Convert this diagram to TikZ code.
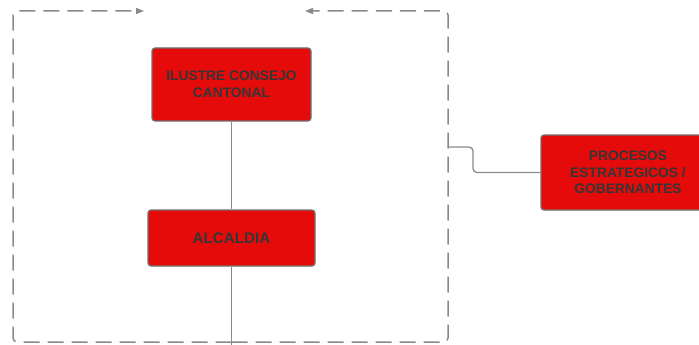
\documentclass[tikz,border=0pt]{standalone}
\usepackage{fontspec}
\setmainfont{Liberation Sans}
\usepackage{tikz}
\usetikzlibrary{arrows.meta,positioning}
\definecolor{boxred}{HTML}{E60B0B}
\definecolor{edgegray}{HTML}{707070}
\definecolor{linegray}{HTML}{8A8A8A}
\definecolor{txtgray}{HTML}{353535}
\tikzset{
  unit/.style={draw=edgegray,line width=1.2pt,fill=boxred,rounded corners=3pt,
    align=center,text=txtgray,font=\bfseries\fontsize{13.8}{17}\selectfont,inner sep=0pt},
  link/.style={draw=linegray,line width=1.3pt},
  frame/.style={draw=linegray,line width=1.5pt,dash pattern=on 16pt off 8pt,
    rounded corners=4pt,-{Triangle[length=8pt,width=6pt]}}
}
\begin{document}
\begin{tikzpicture}[x=1pt,y=-1pt]
  \useasboundingbox (0,0) rectangle (699,345);
  \clip (0,0) rectangle (699,345);
  % frame corners
  \coordinate (bot) at (231.5,342);
  \coordinate (low) at (231.5,345);
  \coordinate (bl) at (13,342);
  \coordinate (tl) at (13,11);
  \coordinate (tr) at (448,11);
  \coordinate (br) at (448,342);
  \coordinate (endl) at (144,11);
  \coordinate (endr) at (305,11);
  \coordinate (tap) at (448,147);
  % frame
  \draw[frame] (bot) -- (bl) -- (tl) -- (endl);
  \draw[frame] (bot) -- (br) -- (tr) -- (endr);
  % units
  \node[unit,minimum width=159pt,minimum height=73pt] (consejo) at (231.5,84.5)
    {ILUSTRE CONSEJO\\CANTONAL};
  \node[unit,minimum width=167pt,minimum height=56pt,font=\bfseries\fontsize{15.2}{17}\selectfont]
    (alcaldia) at (231.5,238) {ALCALDIA};
  \node[unit,minimum width=174pt,minimum height=75pt,font=\bfseries\fontsize{13.8}{16.5}\selectfont]
    (procesos) at (628,172.5) {PROCESOS\\ESTRATEGICOS /\\GOBERNANTES};
  % connectors
  \draw[link] (consejo.south) -- (alcaldia.north);
  \draw[link] (alcaldia.south) -- (low);
  \draw[link,rounded corners=4pt] (tap) -- (473,147) -- (473,172.5) -- (procesos.west);
\end{tikzpicture}
\end{document}
